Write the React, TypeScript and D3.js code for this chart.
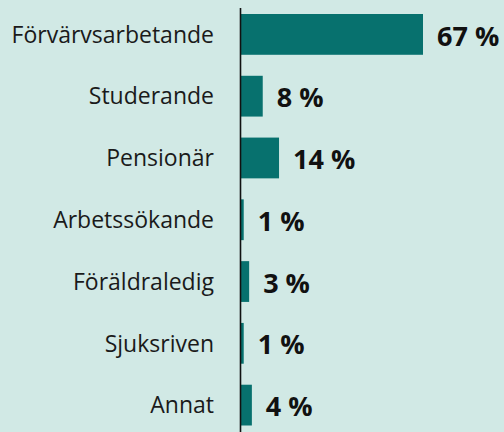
import React from "react";
import { scaleBand, scaleLinear } from "d3";

const categories = [
  "Förvärvsarbetande",
  "Studerande",
  "Pensionär",
  "Arbetssökande",
  "Föräldraledig",
  "Sjuksriven",
  "Annat",
];
const values = [67, 8, 14, 1, 3, 1, 4];

const width = 504;
const height = 432;
const axisX = 241;
const labelSize = 23;
const valueSize = 27;

const App = () => {
  const yScale = scaleBand<string>()
    .domain(categories)
    .range([3.5, 436])
    .paddingInner(0.34)
    .paddingOuter(0.17);

  const xScale = scaleLinear().domain([0, 67]).range([axisX, 423]);

  return (
    <div style={{ position: "fixed", left: 0, top: 0 }}>
      <svg width={width} height={height} style={{ display: "block" }}>
        <rect width={width} height={height} fill="#d1e9e5" />

        {categories.map((c, i) => {
          const y = yScale(c)!;
          const cy = y + yScale.bandwidth() / 2;
          const x1 = xScale(values[i]);
          return (
            <g key={c}>
              <rect
                x={axisX}
                y={y}
                width={x1 - axisX}
                height={yScale.bandwidth()}
                fill="#07716e"
              />
              <text
                x={214}
                y={cy + labelSize * 0.357}
                textAnchor="end"
                fontFamily="'Open Sans', sans-serif"
                fontSize={labelSize}
                fill="#1a1a1a"
              >
                {c}
              </text>
              <text
                x={x1 + 14}
                y={cy + valueSize * 0.357 + 1.5}
                fontFamily="'Open Sans', sans-serif"
                fontWeight="bold"
                fontSize={valueSize}
                fill="#111"
              >
                {values[i]} %
              </text>
            </g>
          );
        })}

        <line x1={axisX - 0.5} x2={axisX - 0.5} y1={8} y2={height} stroke="#111" strokeWidth={1.6} />
      </svg>
    </div>
  );
};

export default App;
